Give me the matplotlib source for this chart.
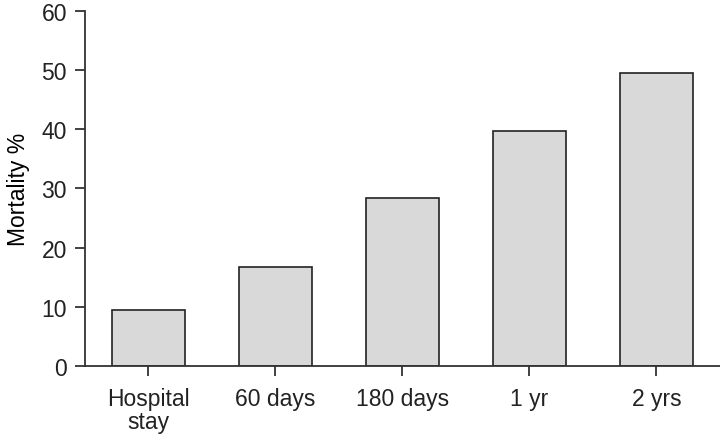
import matplotlib
matplotlib.use('Agg')
import matplotlib.pyplot as plt

categories = ['Hospital\nstay', '60 days', '180 days', '1 yr', '2 yrs']
mortality = [9.5, 16.8, 28.4, 39.7, 49.5]
yticks = [0, 10, 20, 30, 40, 50, 60]

plt.rcParams['font.family'] = ['Liberation Sans', 'DejaVu Sans']
plt.rcParams['font.size'] = 16.5

fig = plt.figure(figsize=(7.2, 4.39), dpi=100)
ax = fig.add_axes([0.118, 0.164, 0.882, 0.809])

x = range(len(categories))
ax.bar(x, mortality, width=0.575, color='#d9d9d9', edgecolor='#222222', linewidth=1.2)

ax.set_xlim(-0.5, 4.5)
ax.set_ylim(0, 60)
ax.set_yticks(yticks)
ax.set_xticks(list(x))
ax.set_xticklabels(categories, linespacing=1.0)
ax.set_ylabel('Mortality %', labelpad=8)

for s in ['top', 'right']:
    ax.spines[s].set_visible(False)
for s in ['left', 'bottom']:
    ax.spines[s].set_color('#333333')
    ax.spines[s].set_linewidth(1.3)
ax.tick_params(axis='both', length=7, width=1.3, color='#333333', labelcolor='#222222')
ax.tick_params(axis='x', pad=8)
ax.tick_params(axis='y', pad=6)

fig.savefig('out.png', dpi=100)
